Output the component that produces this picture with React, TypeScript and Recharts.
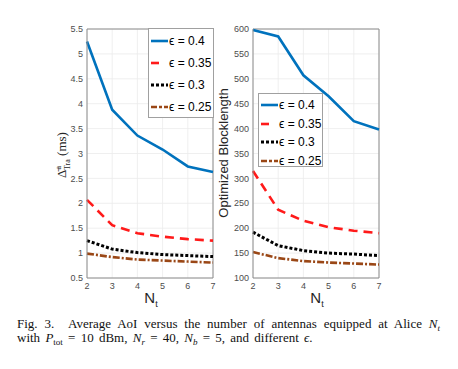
import React from "react";
import {
  LineChart,
  Line,
  XAxis,
  YAxis,
  CartesianGrid,
  ReferenceLine,
  Legend,
} from "recharts";

// ─── Data ────────────────────────────────────────────────────────────────────

const NT = [2, 3, 4, 5, 6, 7];
const EPS_LABELS = ["0.4", "0.35", "0.3", "0.25"];

const AOI_04 = [5.25, 3.88, 3.36, 3.08, 2.74, 2.63];
const AOI_035 = [2.07, 1.56, 1.4, 1.33, 1.28, 1.25];
const AOI_03 = [1.25, 1.08, 1.01, 0.97, 0.95, 0.93];
const AOI_025 = [0.99, 0.92, 0.87, 0.85, 0.83, 0.81];

const BL_04 = [598, 585, 507, 465, 415, 398];
const BL_035 = [315, 237, 215, 202, 195, 190];
const BL_03 = [192, 165, 155, 150, 148, 145];
const BL_025 = [152, 140, 134, 131, 129, 127];

const AOI_TICKS = [0.5, 1, 1.5, 2, 2.5, 3, 3.5, 4, 4.5, 5, 5.5];
const BL_TICKS = [100, 150, 200, 250, 300, 350, 400, 450, 500, 550, 600];

// ─── Style ───────────────────────────────────────────────────────────────────

const SANS = "'Liberation Sans', Arial, sans-serif";
const SERIF = "'Liberation Serif', 'Times New Roman', serif";
const TICK_FG = "#4d4d4d";
const LABEL_FG = "#262626";
const GRID = "#ebebeb";
const AXIS = "#8c8c8c";

const SERIES = [
  { key: "e04", color: "#0072bd", dash: undefined as string | undefined, width: 2.6, sample: undefined as string | undefined },
  { key: "e035", color: "#ff1a1a", dash: "9 6", width: 2.6, sample: "8 40" },
  { key: "e03", color: "#000000", dash: "3 2", width: 3, sample: "3 2" },
  { key: "e025", color: "#9a4716", dash: "7 2 2 2", width: 2.6, sample: "6 2 3 2" },
];

const aoiData = NT.map((n, i) => ({
  nt: n,
  e04: AOI_04[i],
  e035: AOI_035[i],
  e03: AOI_03[i],
  e025: AOI_025[i],
}));

const blData = NT.map((n, i) => ({
  nt: n,
  e04: BL_04[i],
  e035: BL_035[i],
  e03: BL_03[i],
  e025: BL_025[i],
}));

// ─── Pieces ──────────────────────────────────────────────────────────────────

function EpsLegend({ rowHeight, padTop }: { rowHeight: number; padTop: number }) {
  return (
    <div
      style={{
        border: "1px solid #a0a0a0",
        background: "#fff",
        paddingTop: padTop,
        boxSizing: "border-box",
        height: "100%",
      }}
    >
      {SERIES.map((s, i) => (
        <div
          key={s.key}
          style={{ height: rowHeight, display: "flex", alignItems: "center" }}
        >
          <svg width={19} height={6} style={{ marginLeft: 1 }}>
            <line
              x1={1}
              x2={18}
              y1={3}
              y2={3}
              stroke={s.color}
              strokeWidth={s.width}
              strokeDasharray={s.sample}
            />
          </svg>
          <span
            style={{
              fontFamily: SANS,
              fontSize: 12,
              color: "#000",
              whiteSpace: "nowrap",
            }}
          >
            {"\u03f5 = " + EPS_LABELS[i]}
          </span>
        </div>
      ))}
    </div>
  );
}

function NtLabel({ cx, y }: { cx: number; y: number }) {
  return (
    <text x={cx} y={y} textAnchor="middle" fontFamily={SANS} fill={LABEL_FG}>
      <tspan fontSize={15}>N</tspan>
      <tspan fontSize={9} dy={4}>t</tspan>
    </text>
  );
}

function Panel({
  data,
  left,
  domain,
  ticks,
  yLabel,
  legend,
}: {
  data: any[];
  left: number;
  domain: [number, number];
  ticks: number[];
  yLabel: React.ReactNode;
  legend: { left: number; top: number; width: number; height: number; row: number; pad: number };
}) {
  const W = 178;
  const H = 290;
  return (
    <div style={{ position: "absolute", left, top: 20, width: W, height: H }}>
      <LineChart
        width={W}
        height={H}
        data={data}
        margin={{ top: 9, right: 5, left: 0, bottom: 0 }}
      >
        <CartesianGrid stroke={GRID} strokeWidth={0.8} />
        <XAxis
          dataKey="nt"
          type="number"
          domain={[2, 7]}
          ticks={NT}
          height={32}
          stroke={AXIS}
          tickLine={false}
          tickSize={3}
          tickMargin={2}
          tick={{ fontSize: 9, fill: TICK_FG, fontFamily: SANS }}
          label={{ content: () => <NtLabel cx={111} y={283} /> }}
        />
        <YAxis
          type="number"
          domain={domain}
          ticks={ticks}
          width={47}
          stroke={AXIS}
          tickLine={false}
          tickSize={4}
          tickMargin={0}
          interval={0}
          tick={{ fontSize: 9, fill: TICK_FG, fontFamily: SANS }}
          label={{ content: () => yLabel }}
        />
        <ReferenceLine y={domain[1]} stroke={AXIS} />
        <ReferenceLine x={7} stroke={AXIS} />
        {SERIES.map((s) => (
          <Line
            key={s.key}
            dataKey={s.key}
            stroke={s.color}
            strokeWidth={s.width}
            strokeDasharray={s.dash}
            dot={false}
            activeDot={false}
            isAnimationActive={false}
          />
        ))}
        <Legend
          layout="vertical"
          align="center"
          verticalAlign="middle"
          wrapperStyle={{
            left: legend.left,
            top: legend.top,
            width: legend.width,
            height: legend.height,
          }}
          content={() => <EpsLegend rowHeight={legend.row} padTop={legend.pad} />}
        />
      </LineChart>
    </div>
  );
}

const aoiYLabel = (
  <text
    x={26}
    y={135}
    transform="rotate(-90 26 135)"
    textAnchor="middle"
    fontFamily={SERIF}
    fontSize={13}
    fill={LABEL_FG}
  >
    <tspan>{"\u0394\u0304"}</tspan>
    <tspan fontSize={8} dy={-5}>a</tspan>
    <tspan fontSize={8} dx={-4} dy={9}>Tra</tspan>
    <tspan dy={-4}>{" (ms)"}</tspan>
  </text>
);

const blYLabel = (
  <text
    x={22}
    y={133}
    transform="rotate(-90 22 133)"
    textAnchor="middle"
    fontFamily={SANS}
    fontSize={13}
    fill={LABEL_FG}
  >
    Optimized Blocklength
  </text>
);

const subStyle: React.CSSProperties = {
  fontSize: 9,
  position: "relative",
  top: 3,
  lineHeight: 0,
};

// ─── App ─────────────────────────────────────────────────────────────────────

export default function App() {
  return (
    <div
      style={{
        position: "absolute",
        left: 0,
        top: 0,
        width: 458,
        height: 369,
        background: "#fff",
        overflow: "hidden",
      }}
    >
      <Panel
        data={aoiData}
        left={40}
        domain={[0.5, 5.5]}
        ticks={AOI_TICKS}
        yLabel={aoiYLabel}
        legend={{ left: 108, top: 8, width: 66, height: 90, row: 22, pad: 1 }}
      />
      <Panel
        data={blData}
        left={206}
        domain={[100, 600]}
        ticks={BL_TICKS}
        yLabel={blYLabel}
        legend={{ left: 52, top: 73, width: 65, height: 74, row: 18.5, pad: 2 }}
      />
      <div
        style={{
          position: "absolute",
          left: 17,
          top: 317,
          width: 423,
          fontFamily: SERIF,
          fontSize: 13,
          lineHeight: "14px",
          color: "#111",
        }}
      >
        <div style={{ textAlign: "justify", textAlignLast: "justify" }}>
          Fig. 3.{"\u00a0\u00a0"}Average AoI versus the number of antennas equipped at Alice{" "}
          <i>N</i>
          <span style={{ ...subStyle, fontStyle: "italic" }}>t</span>
        </div>
        <div style={{ whiteSpace: "nowrap", wordSpacing: 2 }}>
          with <i>P</i>
          <span style={subStyle}>tot</span> = 10 dBm, <i>N</i>
          <span style={{ ...subStyle, fontStyle: "italic" }}>r</span> = 40, <i>N</i>
          <span style={{ ...subStyle, fontStyle: "italic" }}>b</span> = 5, and different <i>{"\u03f5"}</i>.
        </div>
      </div>
    </div>
  );
}
